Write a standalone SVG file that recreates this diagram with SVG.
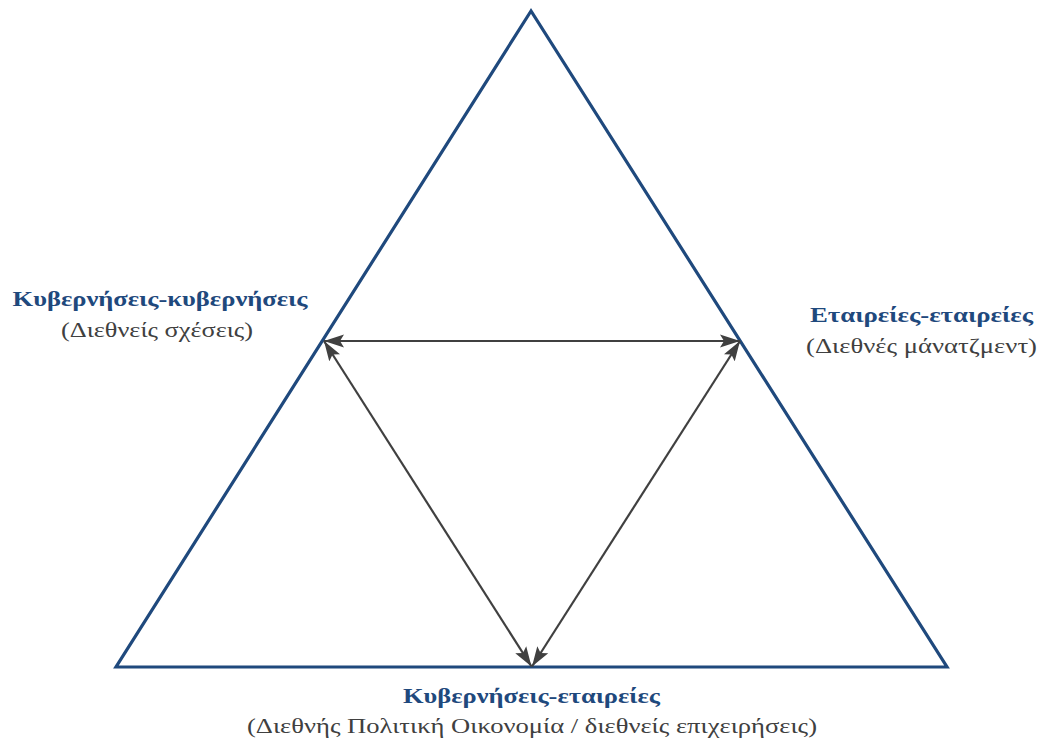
<svg xmlns="http://www.w3.org/2000/svg" width="1039" height="740" viewBox="0 0 1039 740">
<style>
.tri{fill:none;stroke:#1f497d;stroke-width:3.2;stroke-linejoin:miter}
.con{stroke:#404040;stroke-width:2.2;fill:none}
.t1{font-family:"Liberation Serif",serif;font-weight:bold;font-size:22px;fill:#1f497d;text-anchor:middle}
.t2{font-family:"Liberation Serif",serif;font-size:22px;fill:#404040;text-anchor:middle}
</style>
<defs>
<marker id="ah" viewBox="0 0 20 14" refX="20" refY="7" markerWidth="20" markerHeight="14" markerUnits="userSpaceOnUse" orient="auto-start-reverse">
<path d="M0,0.5 L20,7 L0,13.5 L4,7 Z" fill="#404040"/>
</marker>
</defs>
<g id="triangle">
<polygon class="tri" points="531,11 116,667 947,667"/>
</g>
<g id="connectors">
<line class="con" x1="324" y1="341" x2="740" y2="341" marker-start="url(#ah)" marker-end="url(#ah)"/>
<line class="con" x1="324" y1="341" x2="531.5" y2="666.5" marker-start="url(#ah)" marker-end="url(#ah)"/>
<line class="con" x1="740" y1="341" x2="532" y2="666.5" marker-start="url(#ah)" marker-end="url(#ah)"/>
</g>
<g id="node-left">
<text class="t1" x="160" y="306" textLength="295" lengthAdjust="spacingAndGlyphs">Κυβερνήσεις-κυβερνήσεις</text>
<text class="t2" x="157" y="337" textLength="192" lengthAdjust="spacingAndGlyphs">(Διεθνείς σχέσεις)</text>
</g>
<g id="node-right">
<text class="t1" x="921.5" y="322" textLength="223" lengthAdjust="spacingAndGlyphs">Εταιρείες-εταιρείες</text>
<text class="t2" x="921.5" y="353" textLength="231" lengthAdjust="spacingAndGlyphs">(Διεθνές μάνατζμεντ)</text>
</g>
<g id="node-bottom">
<text class="t1" x="531.5" y="703" textLength="257" lengthAdjust="spacingAndGlyphs">Κυβερνήσεις-εταιρείες</text>
<text class="t2" x="532" y="733" textLength="570" lengthAdjust="spacingAndGlyphs">(Διεθνής Πολιτική Οικονομία / διεθνείς επιχειρήσεις)</text>
</g>
</svg>
